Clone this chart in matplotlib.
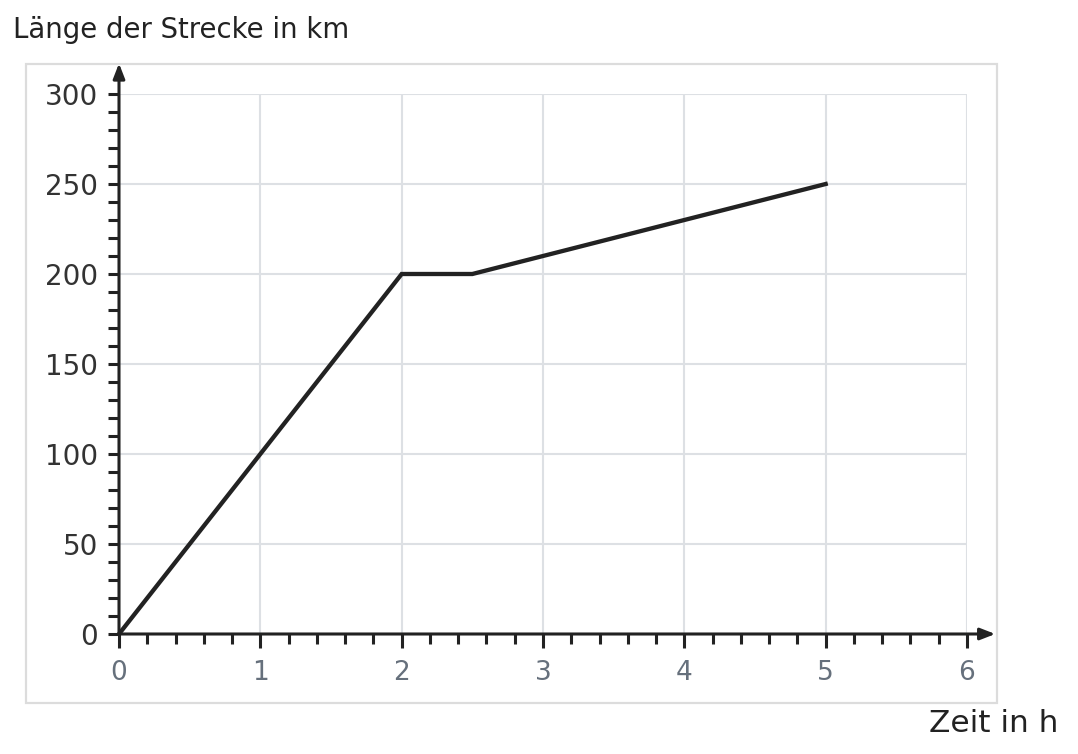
import matplotlib.pyplot as plt
from matplotlib.patches import Rectangle
import numpy as np

# data
zeit = [0, 2, 2.5, 5]
strecke = [0, 200, 200, 250]
x_ticks = [0, 1, 2, 3, 4, 5, 6]
y_ticks = [0, 50, 100, 150, 200, 250, 300]

fig = plt.figure(figsize=(10.78, 7.54), dpi=100)
ax = fig.add_axes([119 / 1078, 1 - 634 / 754, (967 - 119) / 1078, (634 - 94) / 754])

# outer light frame
fig.patches.append(Rectangle((26 / 1078, 1 - 703 / 754), (997 - 26) / 1078, (703 - 64) / 754,
                             transform=fig.transFigure, fill=False,
                             edgecolor='#dcdcdc', linewidth=1.6, zorder=0))

ax.set_xlim(0, 6)
ax.set_ylim(0, 300)
for s in ax.spines.values():
    s.set_visible(False)

ax.set_xticks(x_ticks)
ax.set_yticks(y_ticks)
ax.set_xticks(np.arange(0, 6.01, 0.2), minor=True)
ax.set_yticks(np.arange(0, 301, 10), minor=True)
ax.grid(True, which='major', color='#dde0e4', linewidth=1.5)
ax.set_axisbelow(True)

ax.tick_params(axis='x', which='major', direction='out', length=10, width=2.2,
               color='#222222', labelsize=19, labelcolor='#66707c', pad=9)
ax.tick_params(axis='x', which='minor', direction='out', length=7, width=2.2, color='#222222')
ax.tick_params(axis='y', which='both', direction='out', length=8, width=2.2,
               color='#222222', labelsize=20, labelcolor='#333333', pad=7)

# axis lines with arrows
ax.annotate('', xy=(6.2, 0), xytext=(0, 0), xycoords='data', annotation_clip=False,
            arrowprops=dict(arrowstyle='-|>,head_length=0.9,head_width=0.35',
                            color='#222222', lw=2.2, shrinkA=0, shrinkB=0))
ax.annotate('', xy=(0, 317), xytext=(0, 0), xycoords='data', annotation_clip=False,
            arrowprops=dict(arrowstyle='-|>,head_length=0.9,head_width=0.35',
                            color='#222222', lw=2.2, shrinkA=0, shrinkB=0))

ax.plot(zeit, strecke, color='#222222', linewidth=3.1, solid_joinstyle='miter', clip_on=False)

fig.text(13 / 1078, 1 - 30 / 754, 'Länge der Strecke in km', fontsize=19.8,
         color='#222222', va='center', ha='left')
fig.text(1058 / 1078, 1 - 724 / 754, 'Zeit in h', fontsize=22.5,
         color='#222222', va='center', ha='right')

fig.savefig('out.png', dpi=100)
